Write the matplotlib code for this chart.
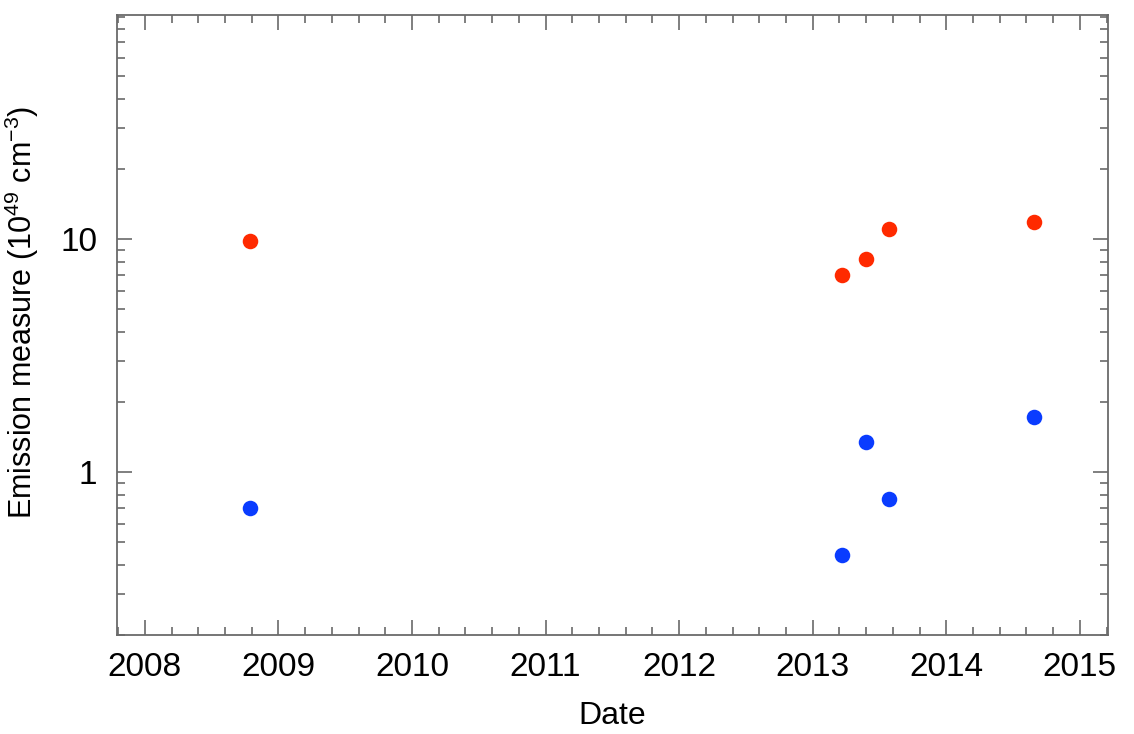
import matplotlib.pyplot as plt
from matplotlib.ticker import MultipleLocator, LogLocator, NullFormatter, FixedLocator

# observation dates (decimal year) and emission measures (1e49 cm^-3)
dates = [2008.79, 2013.22, 2013.40, 2013.57, 2014.66]
em_hot = [9.8, 7.0, 8.2, 11.1, 11.9]
em_cool = [0.70, 0.44, 1.35, 0.765, 1.73]

plt.rcParams['font.family'] = ['Liberation Sans', 'DejaVu Sans']
plt.rcParams['mathtext.fontset'] = 'custom'
plt.rcParams['mathtext.rm'] = 'Liberation Sans'

fig = plt.figure(figsize=(11.34, 7.34), dpi=100)
ax = fig.add_axes([0.103, 0.135, 0.874, 0.845])

ax.scatter(dates, em_hot, s=125, color='#ff2a00', zorder=3, linewidths=0)
ax.scatter(dates, em_cool, s=125, color='#0a3cff', zorder=3, linewidths=0)

ax.set_yscale('log')
ax.set_xlim(2007.79, 2015.21)
ax.set_ylim(0.2, 92)

ax.xaxis.set_major_locator(MultipleLocator(1))
ax.xaxis.set_minor_locator(MultipleLocator(0.2))
ax.yaxis.set_major_locator(FixedLocator([1, 10]))
ax.set_yticklabels(['1', '10'])
ax.yaxis.set_minor_locator(LogLocator(base=10, subs=range(2, 10)))
ax.yaxis.set_minor_formatter(NullFormatter())

for s in ax.spines.values():
    s.set_color('#6a6a6a')
    s.set_linewidth(1.3)
ax.tick_params(which='both', direction='in', top=True, right=True, color='#6a6a6a', width=1.2)
ax.tick_params(which='major', length=11, labelsize=24, pad=12)
ax.tick_params(which='minor', length=6)
ax.tick_params(axis='y', which='major', pad=14)

ax.set_xlabel('Date', fontsize=23, labelpad=13)
ax.set_ylabel('Emission measure (10$^{\\mathregular{49}}$ cm$^{\\mathregular{-3}}$)', fontsize=22)
ax.yaxis.set_label_coords(-0.076, 0.52)

fig.savefig('out.png', dpi=100)
